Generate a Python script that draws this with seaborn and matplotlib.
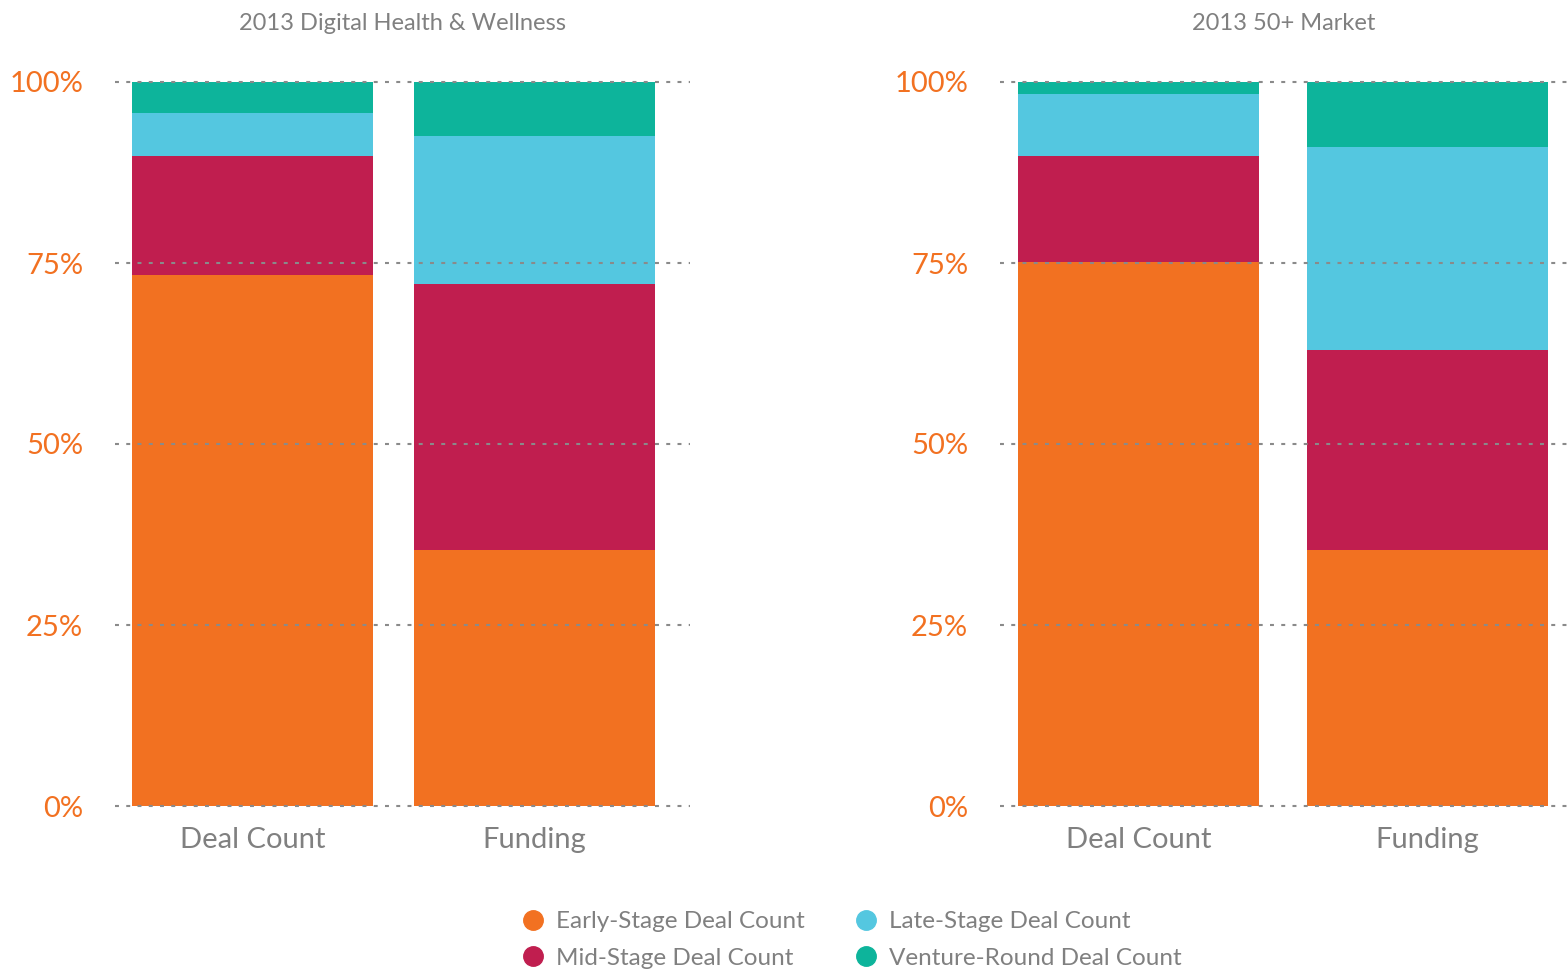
import matplotlib
matplotlib.use("Agg")
import matplotlib.pyplot as plt
from matplotlib.lines import Line2D
import seaborn as sns
import numpy as np
import pandas as pd

categories = ["Deal Count", "Funding"]
panel_titles = ["2013 Digital Health & Wellness", "2013 50+ Market"]
series_names = ["Early-Stage Deal Count", "Mid-Stage Deal Count",
                "Late-Stage Deal Count", "Venture-Round Deal Count"]
colors = ["#F27121", "#C01E4F", "#54C7E0", "#0DB49B"]

# values in percent: [Deal Count, Funding]
dhw_early = [73.3, 35.4]
dhw_mid = [16.5, 36.7]
dhw_late = [5.9, 20.4]
dhw_venture = [4.3, 7.5]

m50_early = [75.1, 35.4]
m50_mid = [14.7, 27.6]
m50_late = [8.6, 28.0]
m50_venture = [1.6, 9.0]

yticks = [0, 25, 50, 75, 100]
ytick_labels = ["0%", "25%", "50%", "75%", "100%"]

sns.set_theme(style="white")
plt.rcParams["font.family"] = ["Lato", "DejaVu Sans"]

GRAY = "#808080"
W, H = 1568, 971
fig = plt.figure(figsize=(W / 100, H / 100), dpi=100)

panels = [
    (panel_titles[0], [dhw_early, dhw_mid, dhw_late, dhw_venture],
     (115, 690), 0.855, (-0.488, 1.551)),
    (panel_titles[1], [m50_early, m50_mid, m50_late, m50_venture],
     (1000, 1568), 0.834, (-0.479, 1.486)),
]

for title, series, (x0, x1), bw, xlim in panels:
    ax = fig.add_axes([x0 / W, (H - 806) / H, (x1 - x0) / W, (806 - 82) / H])
    cum = np.cumsum(np.array(series), axis=0)
    for i in range(len(series) - 1, -1, -1):
        df = pd.DataFrame({"cat": categories, "val": cum[i]})
        sns.barplot(data=df, x="cat", y="val", order=categories, color=colors[i],
                    width=bw, saturation=1, ax=ax, zorder=2, linewidth=0)
    ax.set_xlim(*xlim)
    ax.set_ylim(0, 100)
    ax.set_yticks(yticks)
    ax.set_yticklabels(ytick_labels)
    ax.set_xlabel("")
    ax.set_ylabel("")
    for s in ax.spines.values():
        s.set_visible(False)
    ax.grid(False)
    for y in yticks:
        ax.axhline(y, color="#8a8a8a", linestyle=(0, (1.9, 3.5)), linewidth=1.5,
                   zorder=5, clip_on=False)
    ax.tick_params(axis="y", length=0, pad=23, labelsize=21, labelcolor="#F27121")
    ax.tick_params(axis="x", length=0, pad=15, labelsize=21, labelcolor=GRAY)
    for lbl in ax.get_xticklabels():
        lbl.set_x(lbl.get_position()[0])
    fig.text((x0 + x1) / 2 / W, 1 - 23 / H, title, ha="center", va="center",
             fontsize=17, color=GRAY)

handles = [Line2D([], [], marker="o", linestyle="none", markersize=14,
                  markerfacecolor=c, markeredgecolor=c) for c in colors]
leg = fig.legend(handles, series_names, ncol=2, loc="center",
                 bbox_to_anchor=(851 / W, 1 - 940 / H), frameon=False,
                 fontsize=17.5, labelcolor=GRAY, handletextpad=0.45,
                 columnspacing=2.0, labelspacing=0.65, handlelength=1.0)

fig.savefig("out.png", dpi=100)
